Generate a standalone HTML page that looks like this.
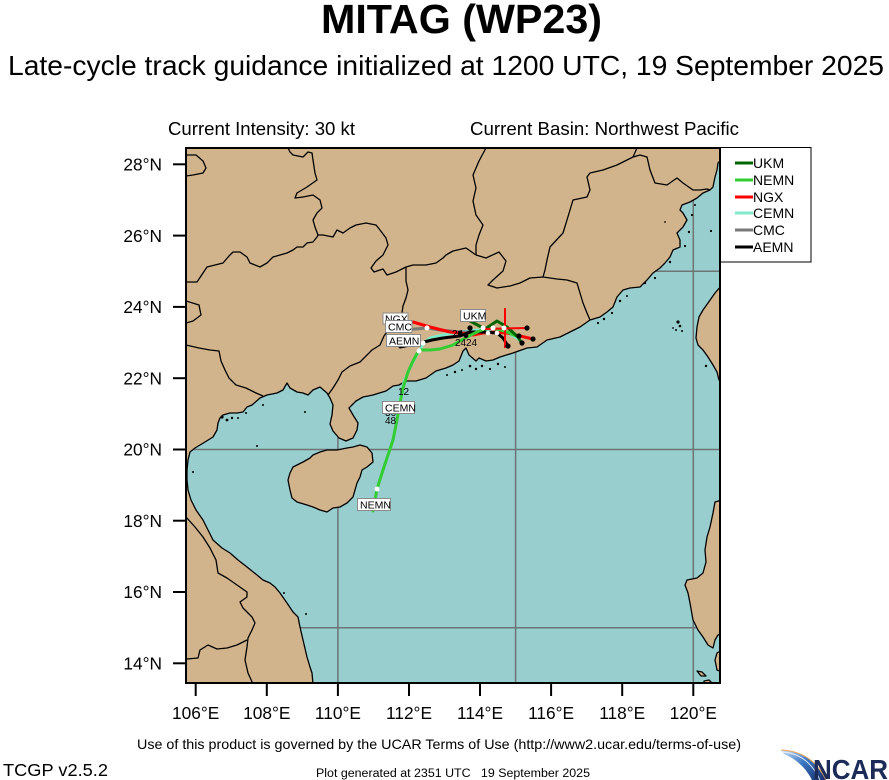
<!DOCTYPE html>
<html>
<head>
<meta charset="utf-8">
<style>
  html,body{margin:0;padding:0;background:#fff;}
  body{width:889px;height:780px;overflow:hidden;}
  svg{display:block;font-family:"Liberation Sans",Arial,Helvetica,sans-serif;}
</style>
</head>
<body>
<svg width="889" height="780" viewBox="0 0 889 780" xmlns="http://www.w3.org/2000/svg">
  <defs>
    <clipPath id="mapclip"><rect x="186" y="148" width="534" height="535"/></clipPath>
    <linearGradient id="sw" x1="0" y1="0" x2="1" y2="1">
      <stop offset="0" stop-color="#cfe3f5"/>
      <stop offset="0.45" stop-color="#3b78c4"/>
      <stop offset="1" stop-color="#142d6e"/>
    </linearGradient>
  </defs>

  <!-- Titles -->
  <text x="321" y="33" font-size="41" font-weight="bold" textLength="281" lengthAdjust="spacingAndGlyphs">MITAG (WP23)</text>
  <text x="8" y="75" font-size="28" textLength="876" lengthAdjust="spacingAndGlyphs">Late-cycle track guidance initialized at 1200 UTC, 19 September 2025</text>
  <text x="168" y="135" font-size="18.5" textLength="187" lengthAdjust="spacingAndGlyphs">Current Intensity: 30 kt</text>
  <text x="470" y="135" font-size="18.5" textLength="269" lengthAdjust="spacingAndGlyphs">Current Basin: Northwest Pacific</text>

  <!-- Map -->
  <g clip-path="url(#mapclip)">
    <rect x="186" y="148" width="534" height="535" fill="#98cece"/>
    <!-- grid -->
    <g stroke="#6e7474" stroke-width="1.5">
      <line x1="337.9" y1="148" x2="337.9" y2="683"/>
      <line x1="515.6" y1="148" x2="515.6" y2="683"/>
      <line x1="693.3" y1="148" x2="693.3" y2="683"/>
      <line x1="186" y1="627.7" x2="720" y2="627.7"/>
      <line x1="186" y1="449.5" x2="720" y2="449.5"/>
      <line x1="186" y1="271.3" x2="720" y2="271.3"/>
    </g>
    <!-- land -->
    <g fill="#d2b48c" stroke="#000" stroke-width="1.3" stroke-linejoin="round">
      <path d="M186,148 L721,148 L721,160 L718,163 L717,170 L715,177 L713,187 L710,190 L703,193 L697,198 L690,202 L682,205 L680,210 L683,213 L687,220 L683,227 L677,233 L680,240 L680,247 L673,250 L670,257 L665,263 L660,268 L653,273 L647,280 L640,287 L630,288 L623,290 L617,297 L613,307 L607,312 L600,317 L590,320 L580,327 L570,332 L560,337 L547,340 L537,347 L527,348 L513,353 L500,357 L493,360 L486,361 L479,358 L476,361 L469,355 L466,348 L463,351 L459,361 L453,365 L446,368 L436,371 L426,378 L416,381 L406,381 L399,385 L393,386 L386,391 L373,395 L363,397 L356,401 L349,408 L353,415 L358,423 L357,430 L353,438 L346,441 L339,438 L333,431 L330,424 L332,415 L333,405 L330,398 L327,393 L320,387 L313,390 L308,395 L303,393 L297,392 L290,388 L287,383 L283,390 L277,393 L267,395 L260,398 L252,405 L247,407 L243,412 L237,413 L230,413 L223,415 L220,418 L218,423 L217,430 L213,437 L205,442 L195,448 L190,452 L188,460 L187,470 L187,480 L188,490 L191,500 L196,510 L203,520 L208,530 L213,540 L222,548 L230,553 L238,560 L247,567 L257,575 L263,580 L270,583 L275,587 L280,593 L287,603 L293,612 L298,617 L300,627 L303,640 L307,657 L310,667 L312,673 L313,684 L185,684 L185,148 Z"/>
      <path d="M290,473 L293,467 L303,462 L310,458 L313,455 L320,452 L327,450 L337,450 L347,448 L353,447 L360,445 L367,447 L372,453 L373,462 L367,467 L362,470 L360,477 L357,483 L355,490 L353,497 L347,503 L340,507 L333,508 L327,512 L320,510 L313,507 L307,505 L297,502 L292,498 L290,490 L288,480 Z"/>
      <path d="M722,285 L715,293 L708,303 L703,310 L699,317 L697,327 L696,338 L698,345 L703,350 L708,357 L713,365 L717,372 L719,380 L722,382 Z"/>
      <path d="M722,500 L715,502 L713,513 L710,527 L707,537 L705,550 L706,562 L703,573 L697,578 L687,580 L685,585 L688,593 L690,603 L693,620 L698,630 L703,637 L708,645 L713,648 L715,640 L718,635 L722,633 Z"/>
      <path d="M722,650 L717,653 L715,660 L717,670 L722,672 Z"/>
      <path d="M697,671 L702,672 L706,676 L701,676 Z"/>
      <path d="M704,681 L709,680 L713,684 L704,684 Z"/>
    </g>
    <!-- small islands -->
    <g fill="#000">
      <circle cx="470" cy="366" r="1.3"/><circle cx="476" cy="369" r="1.2"/><circle cx="482" cy="366" r="1.2"/>
      <circle cx="490" cy="369" r="1.1"/><circle cx="498" cy="364" r="1.2"/><circle cx="505" cy="367" r="1"/>
      <circle cx="455" cy="372" r="1.2"/><circle cx="447" cy="375" r="1"/><circle cx="462" cy="370" r="1"/>
      <circle cx="598" cy="323" r="1.1"/><circle cx="604" cy="319" r="1.2"/><circle cx="612" cy="313" r="1.1"/>
      <circle cx="620" cy="301" r="1.2"/><circle cx="627" cy="296" r="1"/><circle cx="645" cy="283" r="1.2"/>
      <circle cx="655" cy="278" r="1.1"/><circle cx="670" cy="262" r="1.2"/><circle cx="685" cy="246" r="1.1"/>
      <circle cx="689" cy="232" r="1.2"/><circle cx="692" cy="215" r="1.1"/><circle cx="695" cy="205" r="1"/>
      <circle cx="678" cy="322" r="1.6"/><circle cx="680" cy="326" r="1.3"/><circle cx="676" cy="330" r="1"/>
      <circle cx="682" cy="331" r="1"/><circle cx="673" cy="328" r="0.9"/><circle cx="706" cy="366" r="1.2"/>
      <circle cx="711" cy="231" r="1.1"/><circle cx="665" cy="222" r="0.9"/>
      <circle cx="222" cy="417" r="1.6"/><circle cx="227" cy="420" r="1.4"/><circle cx="232" cy="418" r="1.2"/>
      <circle cx="246" cy="413" r="1"/><circle cx="238" cy="418" r="1"/><circle cx="263" cy="405" r="1"/>
      <circle cx="305" cy="412" r="1"/><circle cx="257" cy="446" r="1"/><circle cx="193" cy="472" r="1"/>
      <circle cx="284" cy="593" r="1"/><circle cx="306" cy="614" r="1"/>
    </g>
    <!-- boundaries -->
    <g fill="none" stroke="#000" stroke-width="1.3" stroke-linejoin="round">
      <path d="M186,155 L196,155 L203,161 L206,168 L203,173 L193,175 L186,176"/>
      <path d="M288,148 L290,152 L293,155 L298,156 L303,157 L308,152 L312,153 L313,160 L315,173 L317,180 L307,187 L297,193 L295,198 L303,197 L313,195 L320,200 L322,208 L317,213 L313,220 L315,227 L318,235"/>
      <path d="M186,282 L197,282 L203,273 L207,267 L215,265 L223,263 L229,256 L233,252 L240,252 L247,257 L250,263 L260,267 L267,263 L273,257 L280,255 L287,253 L293,250 L297,247 L303,247 L307,243 L313,242 L317,237 L318,235"/>
      <path d="M318,235 L323,235 L333,237 L337,230 L343,233 L350,228 L356,225 L366,223 L376,225 L380,230 L386,238 L388,245 L383,255 L376,261 L371,268 L374,272 L383,269 L387,275 L396,272 L406,267"/>
      <path d="M406,267 L413,265 L426,265 L436,263 L443,258 L446,255 L453,251 L466,248 L476,255"/>
      <path d="M486,148 L479,161 L473,175 L476,188 L473,201 L476,215 L483,225 L479,235 L476,245 L476,255"/>
      <path d="M476,255 L486,258 L499,252 L506,261 L503,271 L493,280 L488,285 L497,288 L510,286 L520,283 L530,278 L543,277"/>
      <path d="M637,148 L633,157 L625,161 L617,165 L603,170 L590,173 L587,177 L590,190 L587,197 L573,200 L570,210 L567,220 L563,233 L550,247 L547,260 L545,270 L543,277"/>
      <path d="M543,277 L557,279 L567,280 L577,283 L580,293 L583,303 L587,313 L590,320"/>
      <path d="M633,157 L640,155 L647,157 L650,170 L655,183 L667,185 L677,178 L683,183 L693,190 L700,190 L707,189 L710,190"/>
      <path d="M406,267 L406,281 L408,290 L406,298 L403,306 L402,313 L397,322 L390,328 L384,336 L380,345 L372,350 L365,357 L360,362 L350,366 L342,372 L338,380 L333,388 L328,395"/>
      <path d="M186,345 L199,348 L210,350 L219,351 L221,361 L225,370 L229,378 L236,385 L246,388 L256,393 L263,396"/>
      <path d="M186,301 L199,305 L201,315 L193,321 L186,323"/>
      <path d="M186,517 L195,527 L203,537 L210,548 L216,560 L218,573 L227,578 L237,585 L247,592 L247,597 L240,602 L243,608 L252,617 L255,623 L252,630 L248,638 L247,647 L245,660 L248,673 L253,684"/>
      <path d="M247,640 L237,645 L227,648 L217,649 L208,645 L200,650 L198,658 L187,659"/>
    </g>

    <!-- tracks -->
    <g fill="none" stroke-width="3" stroke-linejoin="round" stroke-linecap="round">
      <path stroke="#7fe9cc" d="M398,410 L401,395 L404,382 L409,370 L414,360 L419,351 L424,343 L430,338 L443,335 L460,332 L477,330 L493,331 L507,333 L517,338 L523,343"/>
      <path stroke="#787878" d="M403,330 L415,329 L427,328 L440,330 L460,332 L470,332"/>
      <path stroke="#ff0000" d="M413,322 L430,327 L450,332 L460,333 L473,335 L483,333 L493,332 L507,333 L520,336 L533,339"/>
      <path stroke="#000000" d="M400,347 L410,345 L420,343 L432,340 L443,338 L460,336 L470,332 L483,332 L497,333 L503,338 L508,346"/>
      <path stroke="#33cc33" d="M373,511 L377,489 L383,470 L388,455 L393,440 L397,420 L400,403 L403,388 L408,372 L413,361 L419,350 L430,350 L440,349 L453,345 L467,337 L477,332 L487,328 L497,329 L507,332 L516,336"/>
      <path stroke="#006400" d="M470,321 L485,329 L497,321 L507,327 L518,337 L521,342"/>
    </g>
    <g stroke="#ff0000" stroke-width="2">
      <line x1="483" y1="329" x2="527" y2="328"/>
      <line x1="505" y1="308" x2="505" y2="348"/>
    </g>
    <!-- dots -->
    <g fill="#000">
      <circle cx="470" cy="328" r="2.6"/><circle cx="460" cy="333" r="2.4"/><circle cx="527" cy="328" r="2.6"/>
      <circle cx="533" cy="339" r="2.6"/><circle cx="519" cy="336" r="2.6"/><circle cx="522" cy="343" r="2.6"/>
      <circle cx="508" cy="346" r="2.6"/><circle cx="466" cy="336" r="2.2"/>
    </g>
    <g fill="#fff">
      <circle cx="427" cy="328" r="2.5"/><circle cx="423" cy="343" r="2.5"/><circle cx="419" cy="351" r="2.5"/>
      <circle cx="483" cy="328" r="2.5"/><circle cx="493" cy="328" r="2.5"/><circle cx="504" cy="328" r="2.5"/>
      <circle cx="488" cy="333" r="2.3"/><circle cx="497" cy="333" r="2.3"/><circle cx="377" cy="489" r="2.5"/>
    </g>
    <!-- hour labels -->
    <g font-size="10" fill="#000">
      <text x="452" y="337">24</text>
      <text x="466" y="346">24</text>
      <text x="455" y="346">24</text>
      <text x="398" y="395">12</text>
      <text x="385" y="416">36</text>
      <text x="385" y="424">48</text>
    </g>
    <!-- track labels -->
    <g font-size="10.5" fill="#000">
      <rect x="383" y="313" width="25" height="11" fill="#fff" stroke="#8a8a8a" stroke-width="1"/>
      <text x="385" y="322.5">NGX</text>
      <rect x="385.5" y="320.5" width="26.5" height="12" fill="#fff" stroke="#8a8a8a" stroke-width="1"/>
      <text x="388" y="330.5">CMC</text>
      <rect x="386.5" y="334.5" width="34" height="12" fill="#fff" stroke="#8a8a8a" stroke-width="1"/>
      <text x="389" y="344.5">AEMN</text>
      <rect x="460.5" y="309.5" width="25" height="12" fill="#fff" stroke="#8a8a8a" stroke-width="1"/>
      <text x="463" y="319.5">UKM</text>
      <rect x="382.5" y="401.5" width="32" height="12" fill="#fff" stroke="#8a8a8a" stroke-width="1"/>
      <text x="385" y="411.5">CEMN</text>
      <rect x="357.5" y="498.5" width="33" height="12" fill="#fff" stroke="#8a8a8a" stroke-width="1"/>
      <text x="360" y="508.5">NEMN</text>
    </g>
  </g>
  <!-- frame -->
  <rect x="186" y="148" width="534" height="535" fill="none" stroke="#000" stroke-width="2"/>

  <!-- ticks -->
  <g stroke="#000" stroke-width="2">
    <line x1="173" y1="164.3" x2="186" y2="164.3"/>
    <line x1="173" y1="235.6" x2="186" y2="235.6"/>
    <line x1="173" y1="306.9" x2="186" y2="306.9"/>
    <line x1="173" y1="378.2" x2="186" y2="378.2"/>
    <line x1="173" y1="449.5" x2="186" y2="449.5"/>
    <line x1="173" y1="520.7" x2="186" y2="520.7"/>
    <line x1="173" y1="592.0" x2="186" y2="592.0"/>
    <line x1="173" y1="663.3" x2="186" y2="663.3"/>
    <line x1="195.7" y1="683" x2="195.7" y2="696"/>
    <line x1="266.8" y1="683" x2="266.8" y2="696"/>
    <line x1="337.9" y1="683" x2="337.9" y2="696"/>
    <line x1="409.0" y1="683" x2="409.0" y2="696"/>
    <line x1="480.0" y1="683" x2="480.0" y2="696"/>
    <line x1="551.1" y1="683" x2="551.1" y2="696"/>
    <line x1="622.2" y1="683" x2="622.2" y2="696"/>
    <line x1="693.3" y1="683" x2="693.3" y2="696"/>
  </g>
  <g font-size="17.3" fill="#000" text-anchor="end">
    <text x="162" y="170.5">28°N</text>
    <text x="162" y="241.8">26°N</text>
    <text x="162" y="313.1">24°N</text>
    <text x="162" y="384.4">22°N</text>
    <text x="162" y="455.7">20°N</text>
    <text x="162" y="526.9">18°N</text>
    <text x="162" y="598.2">16°N</text>
    <text x="162" y="669.5">14°N</text>
  </g>
  <g font-size="17.3" fill="#000" text-anchor="middle">
    <text x="195.7" y="719">106°E</text>
    <text x="266.8" y="719">108°E</text>
    <text x="337.9" y="719">110°E</text>
    <text x="409.0" y="719">112°E</text>
    <text x="480.0" y="719">114°E</text>
    <text x="551.1" y="719">116°E</text>
    <text x="622.2" y="719">118°E</text>
    <text x="693.3" y="719">120°E</text>
  </g>

  <!-- legend -->
  <rect x="720.5" y="147.5" width="90.5" height="114.5" fill="#fff" stroke="#000" stroke-width="1"/>
  <g stroke-width="3">
    <line x1="735" y1="163" x2="753" y2="163" stroke="#006400"/>
    <line x1="735" y1="180" x2="753" y2="180" stroke="#33cc33"/>
    <line x1="735" y1="197" x2="753" y2="197" stroke="#ff0000"/>
    <line x1="735" y1="213" x2="753" y2="213" stroke="#7fe9cc"/>
    <line x1="735" y1="230" x2="753" y2="230" stroke="#787878"/>
    <line x1="735" y1="247" x2="753" y2="247" stroke="#000000"/>
  </g>
  <g font-size="14" fill="#000">
    <text x="753" y="168">UKM</text>
    <text x="753" y="185">NEMN</text>
    <text x="753" y="202">NGX</text>
    <text x="753" y="218">CEMN</text>
    <text x="753" y="235">CMC</text>
    <text x="753" y="252">AEMN</text>
  </g>

  <!-- footer -->
  <text x="137" y="749" font-size="14" textLength="604" lengthAdjust="spacingAndGlyphs">Use of this product is governed by the UCAR Terms of Use (http://www2.ucar.edu/terms-of-use)</text>
  <text x="3" y="776" font-size="17.5" textLength="105" lengthAdjust="spacingAndGlyphs">TCGP v2.5.2</text>
  <text x="316" y="777" font-size="11.5" textLength="274" lengthAdjust="spacingAndGlyphs">Plot generated at 2351 UTC&#160;&#160;&#160;19 September 2025</text>

  <!-- NCAR logo -->
  <path d="M781,750 Q812,751 826,780 L812,780 Q803,762 784,754 Z" fill="url(#sw)"/>
  <path d="M781,750 Q812,751 826,780" fill="none" stroke="#f2a65a" stroke-width="1"/>
  <path d="M783,752 Q808,754 820,780" fill="none" stroke="#ffffff" stroke-width="1" opacity="0.8"/>
  <text x="813" y="779" font-size="28" font-weight="bold" fill="#1c2b57" textLength="75" lengthAdjust="spacingAndGlyphs">NCAR</text>
</svg>
</body>
</html>
